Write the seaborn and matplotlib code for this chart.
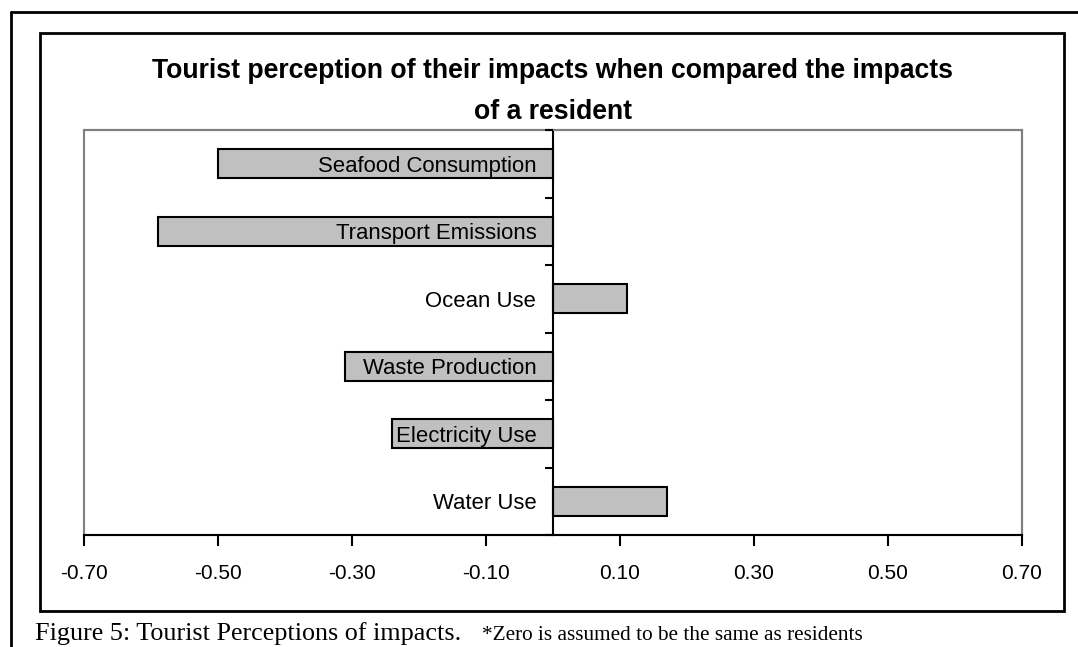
import matplotlib
matplotlib.use("Agg")
import matplotlib.pyplot as plt
from matplotlib.patches import Rectangle
from matplotlib.lines import Line2D
import numpy as np
import pandas as pd
import seaborn as sns

# Perceived impact of tourists relative to residents (0 = same as residents)
categories = ["Seafood Consumption", "Transport Emissions", "Ocean Use",
              "Waste Production", "Electricity Use", "Water Use"]
values = [-0.50, -0.59, 0.11, -0.31, -0.24, 0.17]
x_ticks = [-0.70, -0.50, -0.30, -0.10, 0.10, 0.30, 0.50, 0.70]

title = "Tourist perception of their impacts when compared the impacts\nof a resident"
caption_main = "Figure 5: Tourist Perceptions of impacts."
caption_note = "*Zero is assumed to be the same as residents"

sns.set_theme(style="white")
plt.rcParams["font.family"] = ["Liberation Sans", "DejaVu Sans"]
plt.rcParams["text.color"] = "black"
plt.rcParams["xtick.color"] = "black"
plt.rcParams["ytick.color"] = "black"
plt.rcParams["xtick.labelcolor"] = "black"
plt.rcParams["ytick.labelcolor"] = "black"

W, H = 1078, 647
fig = plt.figure(figsize=(W / 100, H / 100), dpi=100)

def fx(px):
    return px / W

def fy(py):
    return 1 - py / H

ax = fig.add_axes([fx(84), fy(535), fx(1022) - fx(84), fy(130) - fy(535)])

df = pd.DataFrame({"category": categories, "value": values})
sns.barplot(data=df, x="value", y="category", orient="h", order=categories,
            color="#C0C0C0", saturation=1, width=0.43,
            edgecolor="black", linewidth=1.5, ax=ax)

ax.set_xlim(-0.70, 0.70)
ax.set_ylim(len(categories) - 0.5, -0.5)
ax.set_xlabel("")
ax.set_ylabel("")
ax.set_axisbelow(False)

# x axis along the bottom
ax.set_xticks(x_ticks)
ax.set_xticklabels([f"{t:.2f}" for t in x_ticks], fontsize=15, color="black")
ax.tick_params(axis="x", direction="out", length=8, width=1.5, color="black",
               pad=13, bottom=True)
ax.spines["bottom"].set_color("black")
ax.spines["bottom"].set_linewidth(1.5)
for s in ["top", "right"]:
    ax.spines[s].set_color("#808080")
    ax.spines[s].set_linewidth(1.5)

# category axis runs through zero; labels sit just left of it
ax.spines["left"].set_position(("data", 0))
ax.spines["left"].set_color("black")
ax.spines["left"].set_linewidth(1.5)
ax.set_yticks(np.arange(len(categories)))
ax.set_yticklabels(categories, fontsize=15.9, color="black")
ax.set_yticks(np.arange(len(categories) + 1) - 0.5, minor=True)
ax.tick_params(axis="y", which="major", length=0, pad=12, left=True)
ax.tick_params(axis="y", which="minor", direction="out", length=6, width=1.5,
               color="black", left=True)

# grey left edge of the plot area
ax.add_patch(Rectangle((0, 0), 1, 1, transform=ax.transAxes, fill=False,
                       edgecolor="#808080", linewidth=1.5, clip_on=False, zorder=0))

# chart frame
fig.patches.append(Rectangle((fx(40), fy(611)), fx(1064) - fx(40), fy(33) - fy(611),
                             transform=fig.transFigure, fill=False,
                             edgecolor="black", linewidth=2))
# page frame lines
fig.lines.append(Line2D([fx(11), 1], [fy(12), fy(12)], transform=fig.transFigure,
                        color="black", linewidth=2))
fig.lines.append(Line2D([fx(11), fx(11)], [fy(12), 0], transform=fig.transFigure,
                        color="black", linewidth=2))

fig.text(fx(553), fy(119), title, ha="center", va="baseline", fontsize=19.2,
         fontweight="bold", linespacing=1.75, multialignment="center",
         color="black")

fig.text(fx(35), fy(640), caption_main, ha="left", va="baseline", fontsize=18.8,
         family=["Liberation Serif", "DejaVu Serif"], color="black")
fig.text(fx(482), fy(640), caption_note, ha="left", va="baseline", fontsize=15.3,
         family=["Liberation Serif", "DejaVu Serif"], color="black")

fig.savefig("out.png", dpi=100)
